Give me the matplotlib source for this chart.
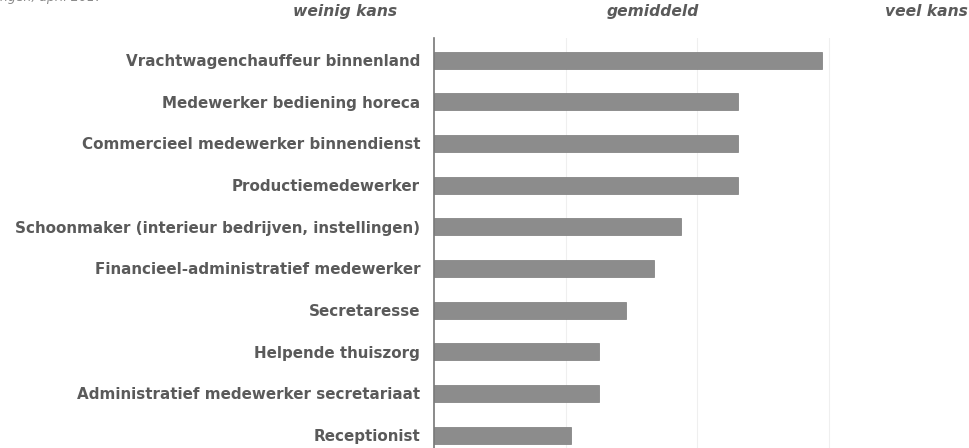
import matplotlib
matplotlib.use("Agg")
import matplotlib.pyplot as plt

beroepen = [
    "Vrachtwagenchauffeur binnenland",
    "Medewerker bediening horeca",
    "Commercieel medewerker binnendienst",
    "Productiemedewerker",
    "Schoonmaker (interieur bedrijven, instellingen)",
    "Financieel-administratief medewerker",
    "Secretaresse",
    "Helpende thuiszorg",
    "Administratief medewerker secretariaat",
    "Receptionist",
]
kans = [2.95, 2.31, 2.31, 2.31, 1.88, 1.67, 1.46, 1.25, 1.25, 1.04]
schaal = ["weinig kans", "gemiddeld", "veel kans"]

tekst = "#5a5a5a"
fig = plt.figure(figsize=(9.69, 4.48), dpi=100)
ax = fig.add_axes([0.448, 0.0, 0.543, 0.915])

pos = list(range(len(beroepen)))
ax.barh(pos, kans, height=0.41, color="#8c8c8c", edgecolor="#7a7a7a", linewidth=0.5, zorder=2)
ax.set_xlim(0, 4)
ax.set_ylim(9.31, -0.53)
ax.set_xticks([1, 2, 3])
ax.xaxis.grid(True, color="#efefef", linewidth=0.8, zorder=0)
ax.tick_params(axis="x", length=0, labelbottom=False)
ax.tick_params(axis="y", length=0, pad=10)
ax.set_yticks(pos)
ax.set_yticklabels(beroepen, fontsize=10.9, fontweight="bold", color=tekst)
for s in ["top", "right", "bottom"]:
    ax.spines[s].set_visible(False)
ax.spines["left"].set_color("#777777")
ax.spines["left"].set_linewidth(1.2)

for label, x in zip(schaal, [0.356, 0.674, 0.956]):
    fig.text(x, 0.975, label, ha="center", va="center", fontsize=11.2,
             fontweight="bold", style="italic", color=tekst)
fig.text(0.0, 1.005, "ngen, april 2017", ha="left", va="center", fontsize=9,
         style="italic", color="#888888")

plt.savefig("out.png", dpi=100)
plt.close()
